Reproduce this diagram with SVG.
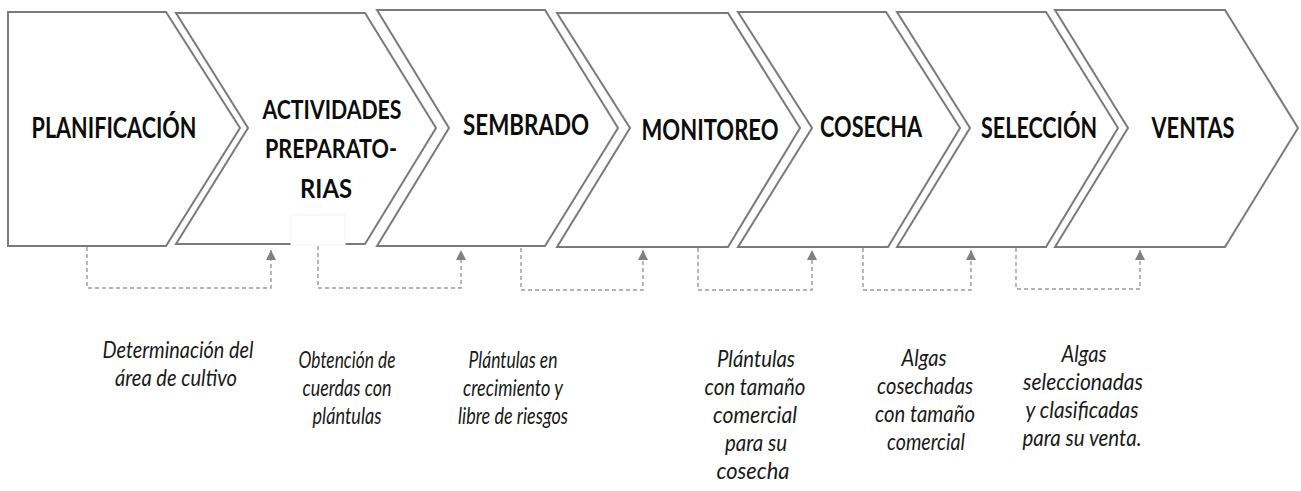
<svg xmlns="http://www.w3.org/2000/svg" width="1301" height="491" viewBox="0 0 1301 491">
<style>
.shape{fill:#ffffff;stroke:#7a7a7a;stroke-width:2;stroke-linejoin:miter}
.title{font-family:Lato,"Open Sans",sans-serif;font-weight:700;font-size:28px;fill:#0d0d0d;text-anchor:middle}
.desc{font-family:Lato,"Open Sans",sans-serif;font-style:italic;font-size:23px;fill:#1a1a1a;text-anchor:middle}
.conn{fill:none;stroke:#9a9a9a;stroke-width:1.4;stroke-dasharray:4 3}
</style>
<defs>
<marker id="arr" markerUnits="userSpaceOnUse" viewBox="0 0 10 10" refX="10" refY="5" markerWidth="10" markerHeight="10" orient="auto">
<path d="M0,0 L10,5 L0,10 z" fill="#808080"/>
</marker>
</defs>
<rect width="1301" height="491" fill="#ffffff"/>
<g id="connectors">
<path class="conn" d="M87,247 V288 H271 V250" marker-end="url(#arr)"/>
<path class="conn" d="M318,246 V288 H461 V250" marker-end="url(#arr)"/>
<path class="conn" d="M521,248 V290 H643 V250" marker-end="url(#arr)"/>
<path class="conn" d="M698,248 V290 H812 V250" marker-end="url(#arr)"/>
<path class="conn" d="M863,248 V290 H971 V250" marker-end="url(#arr)"/>
<path class="conn" d="M1016,248 V289 H1140 V250" marker-end="url(#arr)"/>
</g>
<g id="planificacion">
<polygon class="shape" points="8,12 166,12 240,128 166,246 8,246"/>
<text class="title" x="114" y="138" textLength="165" lengthAdjust="spacingAndGlyphs">PLANIFICACIÓN</text>
</g>
<g id="actividades">
<polygon class="shape" points="176,13 365,13 436,128 365,244 176,244 248,128"/>
<rect x="291" y="215" width="54" height="30" fill="#ffffff" stroke="#f3f3f3" stroke-width="1"/>
<text class="title" style="font-size:26px" x="332" y="119" textLength="139" lengthAdjust="spacingAndGlyphs">ACTIVIDADES</text>
<text class="title" style="font-size:26px" x="331" y="158" textLength="132" lengthAdjust="spacingAndGlyphs">PREPARATO-</text>
<text class="title" style="font-size:26px" x="326" y="198" textLength="52" lengthAdjust="spacingAndGlyphs">RIAS</text>
</g>
<g id="sembrado">
<polygon class="shape" points="377,10 545,10 618,128 545,246 377,246 449,128"/>
<text class="title" x="526" y="135" textLength="126" lengthAdjust="spacingAndGlyphs">SEMBRADO</text>
</g>
<g id="monitoreo">
<polygon class="shape" points="557,13 728,13 800,128 728,247 557,247 630,128"/>
<text class="title" x="710" y="140" textLength="137" lengthAdjust="spacingAndGlyphs">MONITOREO</text>
</g>
<g id="cosecha">
<polygon class="shape" points="738,12 886,12 960,128 888,247 738,247 812,128"/>
<text class="title" x="871" y="137" textLength="102" lengthAdjust="spacingAndGlyphs">COSECHA</text>
</g>
<g id="seleccion">
<polygon class="shape" points="897,12 1046,12 1118,128 1046,247 897,247 970,128"/>
<text class="title" x="1039" y="138" textLength="116" lengthAdjust="spacingAndGlyphs">SELECCIÓN</text>
</g>
<g id="ventas">
<polygon class="shape" points="1055,10 1225,10 1298,128 1225,247 1055,247 1128,128"/>
<text class="title" x="1193" y="138" textLength="83" lengthAdjust="spacingAndGlyphs">VENTAS</text>
</g>
<g id="desc1">
<text class="desc" x="178" y="358" textLength="151" lengthAdjust="spacingAndGlyphs">Determinación del</text>
<text class="desc" x="176" y="386" textLength="122" lengthAdjust="spacingAndGlyphs">área de cultivo</text>
</g>
<g id="desc2">
<text class="desc" x="347" y="368" textLength="97" lengthAdjust="spacingAndGlyphs">Obtención de</text>
<text class="desc" x="347" y="396" textLength="89" lengthAdjust="spacingAndGlyphs">cuerdas con</text>
<text class="desc" x="347" y="424" textLength="69" lengthAdjust="spacingAndGlyphs">plántulas</text>
</g>
<g id="desc3">
<text class="desc" x="513" y="368" textLength="89" lengthAdjust="spacingAndGlyphs">Plántulas en</text>
<text class="desc" x="513" y="396" textLength="100" lengthAdjust="spacingAndGlyphs">crecimiento y</text>
<text class="desc" x="513" y="424" textLength="110" lengthAdjust="spacingAndGlyphs">libre de riesgos</text>
</g>
<g id="desc4">
<text class="desc" x="756" y="367" textLength="78" lengthAdjust="spacingAndGlyphs">Plántulas</text>
<text class="desc" x="755" y="395" textLength="101" lengthAdjust="spacingAndGlyphs">con tamaño</text>
<text class="desc" x="755" y="423" textLength="84" lengthAdjust="spacingAndGlyphs">comercial</text>
<text class="desc" x="756" y="451" textLength="62" lengthAdjust="spacingAndGlyphs">para su</text>
<text class="desc" x="753" y="479" textLength="73" lengthAdjust="spacingAndGlyphs">cosecha</text>
</g>
<g id="desc5">
<text class="desc" x="924" y="366" textLength="45" lengthAdjust="spacingAndGlyphs">Algas</text>
<text class="desc" x="925" y="394" textLength="96" lengthAdjust="spacingAndGlyphs">cosechadas</text>
<text class="desc" x="925" y="422" textLength="100" lengthAdjust="spacingAndGlyphs">con tamaño</text>
<text class="desc" x="926" y="450" textLength="78" lengthAdjust="spacingAndGlyphs">comercial</text>
</g>
<g id="desc6">
<text class="desc" x="1084" y="362" textLength="45" lengthAdjust="spacingAndGlyphs">Algas</text>
<text class="desc" x="1083" y="390" textLength="120" lengthAdjust="spacingAndGlyphs">seleccionadas</text>
<text class="desc" x="1082" y="418" textLength="113" lengthAdjust="spacingAndGlyphs">y clasificadas</text>
<text class="desc" x="1082" y="446" textLength="119" lengthAdjust="spacingAndGlyphs">para su venta.</text>
</g>
</svg>
